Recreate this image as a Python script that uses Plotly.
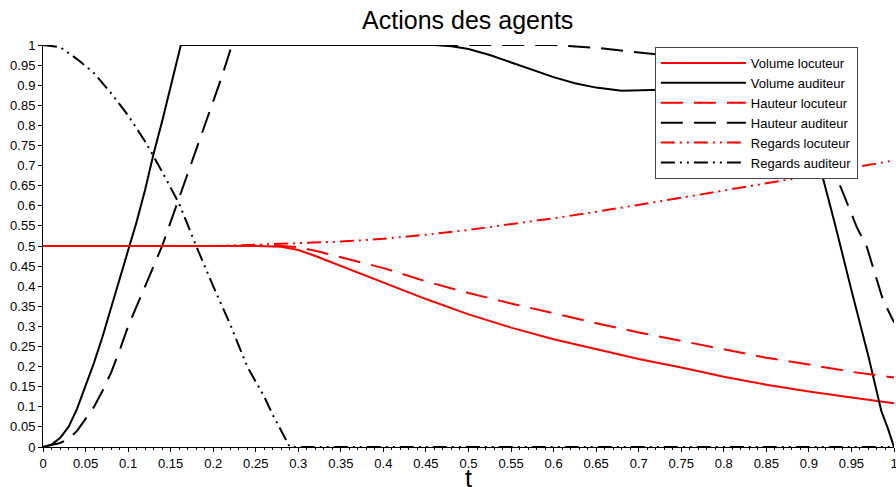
import plotly.graph_objects as go

# Volume auditeur
t_vol_aud = [0, 0.01, 0.02, 0.03, 0.04, 0.05, 0.06, 0.07, 0.08, 0.09, 0.10, 0.11, 0.12,
             0.13, 0.14, 0.15, 0.162, 0.3, 0.46, 0.48, 0.5, 0.525, 0.55, 0.575, 0.6, 0.625,
             0.65, 0.68, 0.72, 0.75, 0.8, 0.85, 0.88, 0.9, 0.915, 0.93, 0.95, 0.97, 0.985,
             0.993, 1.0]
vol_aud = [0, 0.006, 0.022, 0.05, 0.095, 0.15, 0.21, 0.275, 0.345, 0.415, 0.485, 0.56, 0.64,
           0.73, 0.81, 0.9, 1.0, 1.0, 1.0, 0.997, 0.99, 0.975, 0.957, 0.938, 0.92, 0.905,
           0.894, 0.886, 0.888, 0.89, 0.88, 0.85, 0.81, 0.77, 0.681, 0.56, 0.39, 0.225, 0.09,
           0.045, 0.0]

# Hauteur auditeur
t_hau_aud = [0, 0.02, 0.03, 0.04, 0.05, 0.06, 0.07, 0.08, 0.09, 0.10, 0.11, 0.12, 0.13,
             0.14, 0.15, 0.16, 0.17, 0.18, 0.19, 0.20, 0.21, 0.222, 0.4, 0.6, 0.65, 0.7,
             0.75, 0.8, 0.85, 0.88, 0.9, 0.913, 0.937, 0.956, 0.968, 0.987, 1.0]
hau_aud = [0, 0.01, 0.02, 0.04, 0.07, 0.1, 0.14, 0.185, 0.24, 0.3, 0.35, 0.4, 0.45,
           0.5, 0.56, 0.62, 0.68, 0.74, 0.8, 0.86, 0.92, 1.0, 1.0, 1.0, 0.993, 0.982,
           0.97, 0.94, 0.9, 0.85, 0.8, 0.764, 0.648, 0.548, 0.498, 0.366, 0.31]

# Regards auditeur
t_reg_aud = [0, 0.02, 0.04, 0.06, 0.08, 0.10, 0.12, 0.14, 0.16, 0.18, 0.20, 0.22, 0.24,
             0.26, 0.27, 0.28, 0.29, 1.0]
reg_aud = [1.0, 0.995, 0.965, 0.93, 0.88, 0.825, 0.76, 0.685, 0.605, 0.5, 0.4, 0.305, 0.2,
           0.125, 0.08, 0.04, 0.0, 0.0]

# Locuteur (same time samples)
t_loc = [0, 0.2, 0.25, 0.28, 0.30, 0.32, 0.35, 0.40, 0.45, 0.50, 0.55, 0.60, 0.65, 0.70,
         0.75, 0.80, 0.85, 0.90, 0.95, 1.0]
vol_loc = [0.5, 0.5, 0.5, 0.498, 0.49, 0.475, 0.45, 0.408, 0.368, 0.33, 0.297, 0.268, 0.243,
           0.219, 0.198, 0.175, 0.155, 0.138, 0.123, 0.109]
hau_loc = [0.5, 0.5, 0.5, 0.5, 0.497, 0.488, 0.472, 0.445, 0.412, 0.383, 0.357, 0.332, 0.308,
           0.285, 0.264, 0.242, 0.222, 0.205, 0.187, 0.173]
reg_loc = [0.5, 0.5, 0.503, 0.505, 0.506, 0.508, 0.511, 0.518, 0.528, 0.54, 0.554, 0.569,
           0.585, 0.602, 0.62, 0.638, 0.656, 0.674, 0.694, 0.713]

RED = "#ff0000"
BLACK = "#000000"
DASH = "22px,11px"
DASHDOT = "14px,5px,2px,5px,2px,5px"
FONT = "Liberation Sans, Arial, sans-serif"

series = [
    ("Volume locuteur", t_loc, vol_loc, RED, "solid"),
    ("Volume auditeur", t_vol_aud, vol_aud, BLACK, "solid"),
    ("Hauteur locuteur", t_loc, hau_loc, RED, DASH),
    ("Hauteur auditeur", t_hau_aud, hau_aud, BLACK, DASH),
    ("Regards locuteur", t_loc, reg_loc, RED, DASHDOT),
    ("Regards auditeur", t_reg_aud, reg_aud, BLACK, DASHDOT),
]

fig = go.Figure()
for name, x, y, color, dash in series:
    fig.add_trace(go.Scatter(x=x, y=y, name=name, mode="lines",
                             line=dict(color=color, width=2, dash=dash)))

axis_font = dict(family=FONT, size=13, color="black")
fig.update_layout(
    width=896, height=487,
    margin=dict(l=43, r=2, t=45, b=40),
    paper_bgcolor="white", plot_bgcolor="white",
    title=dict(text="Actions des agents", x=0.522, xanchor="center", y=0.958, yanchor="middle",
               font=dict(family=FONT, size=25, color="black")),
    font=axis_font,
    legend=dict(x=0.719, y=0.995, xanchor="left", yanchor="top", bgcolor="white",
                bordercolor="#444", borderwidth=1, tracegroupgap=0,
                font=dict(family=FONT, size=13, color="black"), itemwidth=85),
    showlegend=True,
    annotations=[dict(text="t", x=0.5, y=-0.076, xref="paper", yref="paper",
                      xanchor="center", yanchor="middle", showarrow=False,
                      font=dict(family=FONT, size=25, color="black"))],
)
fig.update_xaxes(range=[0, 1], dtick=0.05, tick0=0, showgrid=False, zeroline=False,
                 automargin=False, ticklabeloverflow="allow",
                 showline=True, linecolor="black", linewidth=1, ticks="outside", ticklen=4,
                 tickcolor="black", tickfont=axis_font,
                 minor=dict(dtick=0.01, ticks="outside", ticklen=2, tickcolor="black"))
fig.update_yaxes(range=[0, 1], dtick=0.05, tick0=0, showgrid=False, zeroline=False,
                 automargin=False, ticklabeloverflow="allow",
                 showline=True, linecolor="black", linewidth=1, ticks="outside", ticklen=4,
                 tickcolor="black", tickfont=axis_font)

# drop the default 8px page margin so the figure fills the window exactly
fig.write_html("out.html", config={"displayModeBar": False},
               post_script="document.body.style.margin='0';document.body.style.overflow='hidden';")
